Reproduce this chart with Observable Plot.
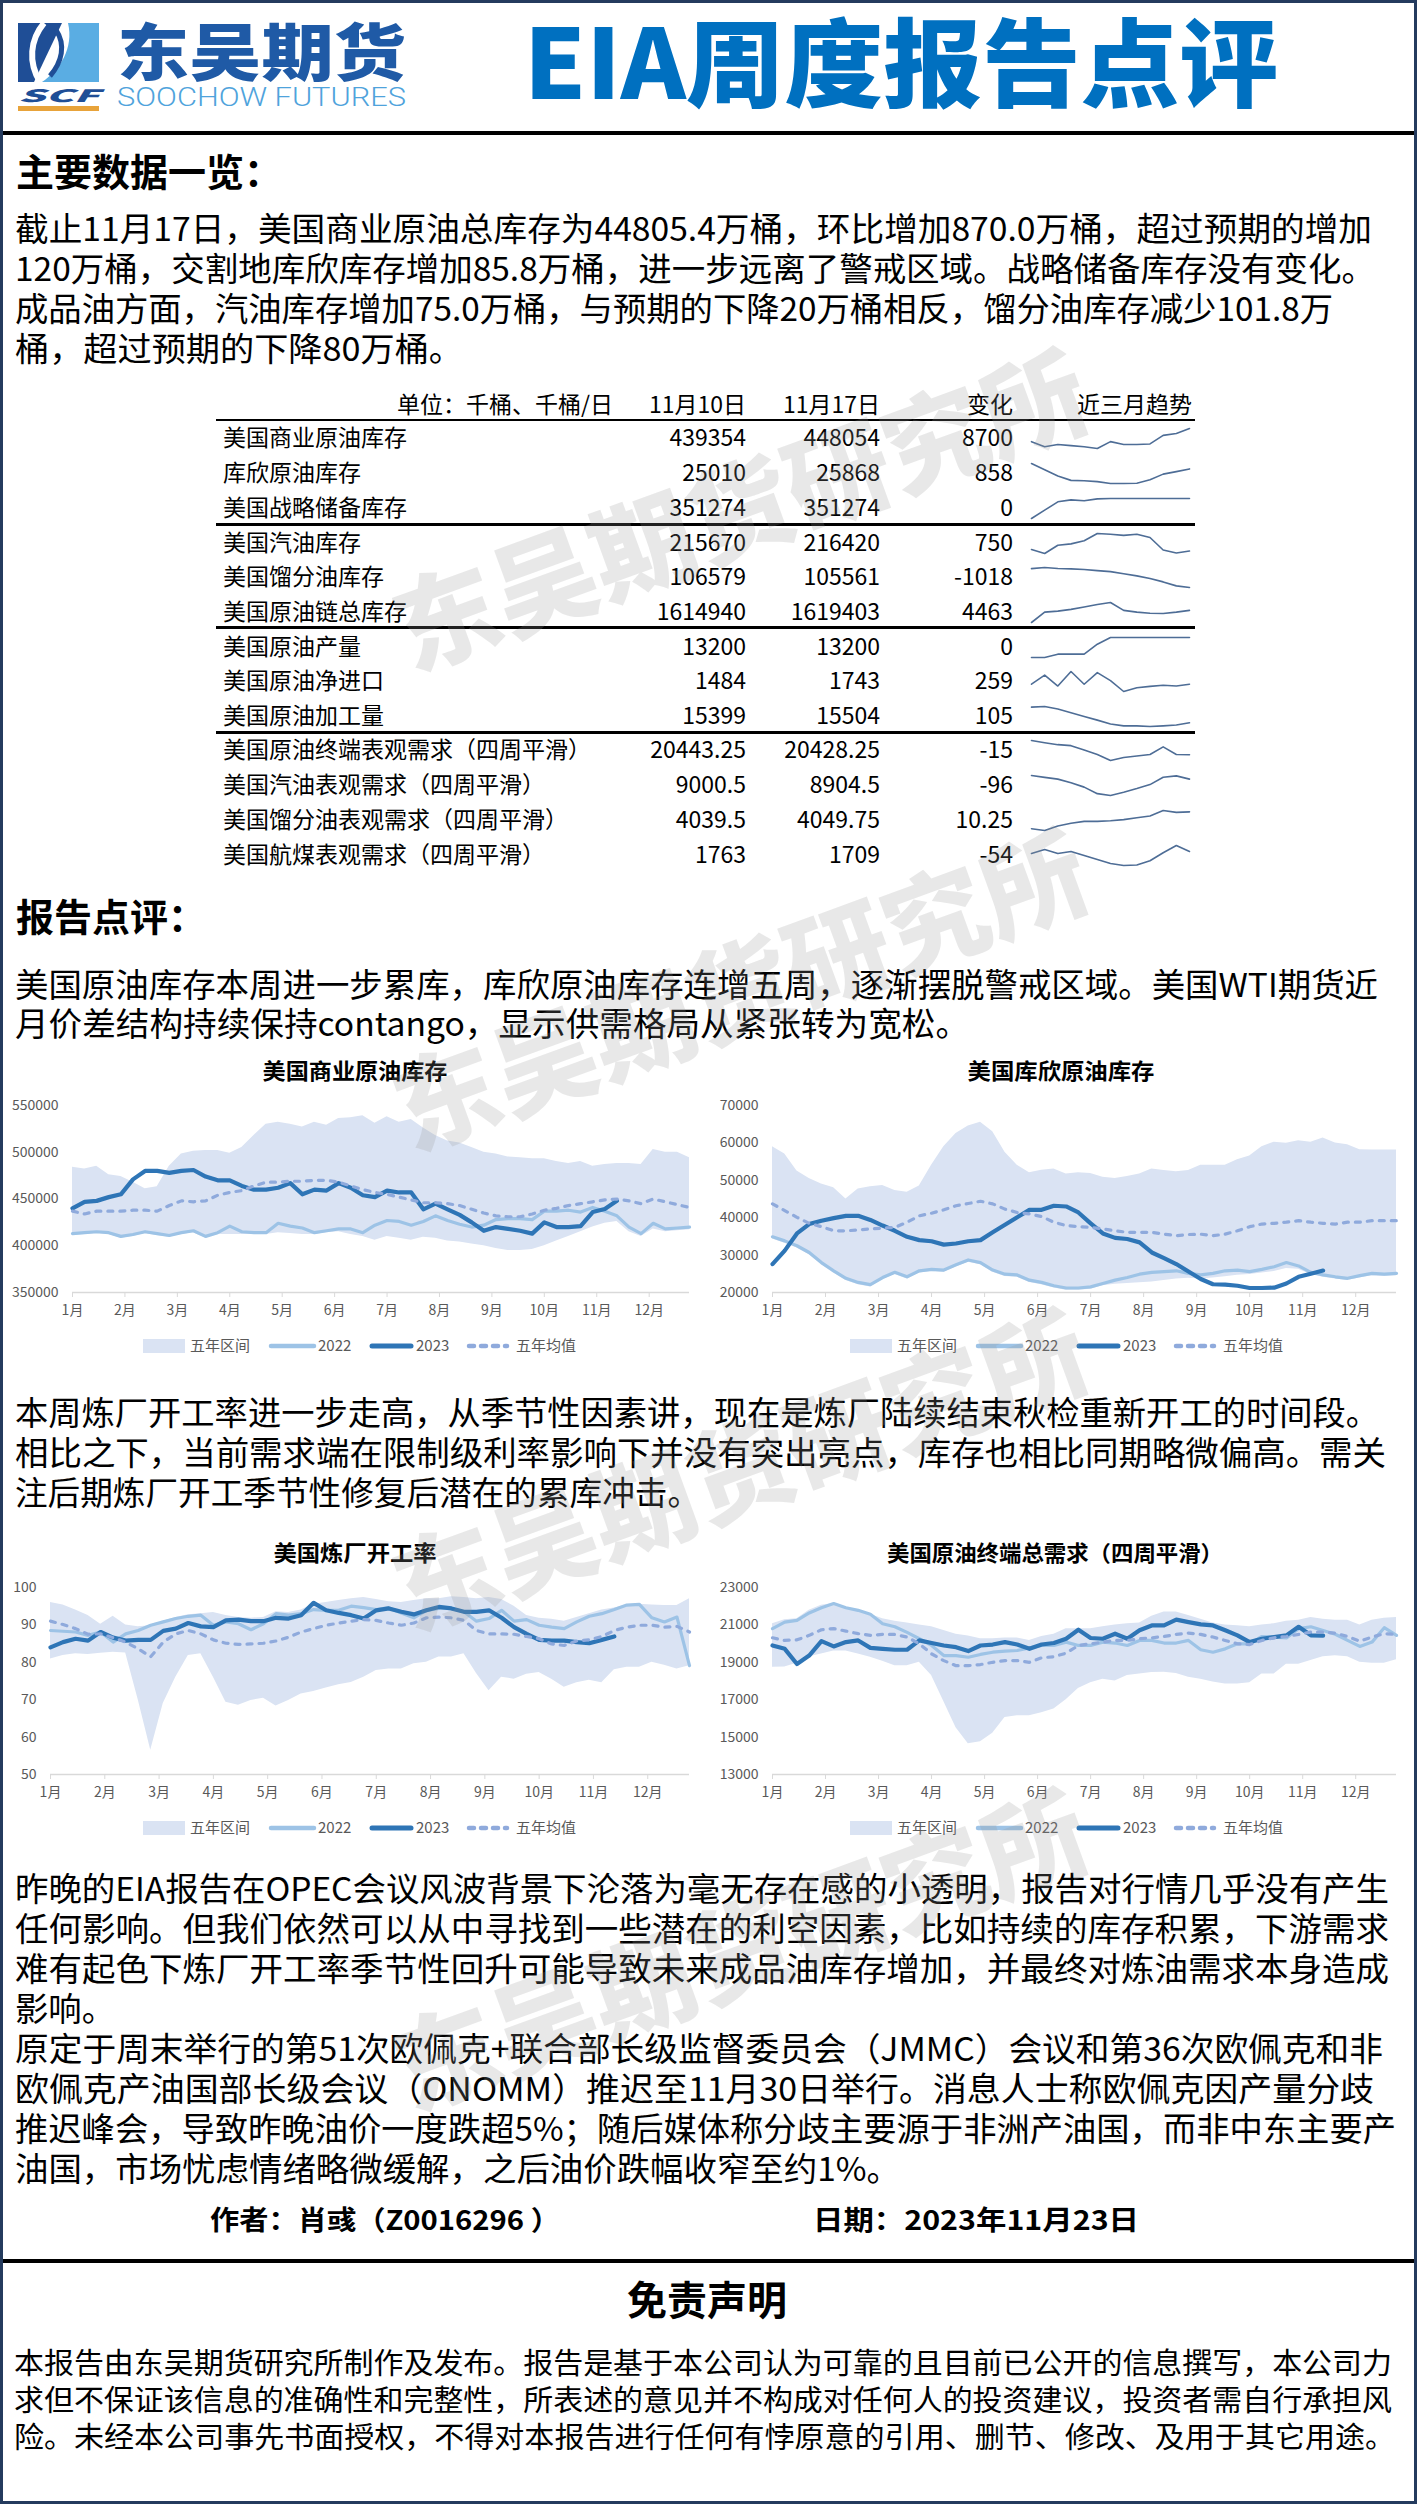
<!DOCTYPE html>
<html><head><meta charset="utf-8">
<script src="https://cdn.jsdelivr.net/npm/d3@7"></script>
<script src="https://cdn.jsdelivr.net/npm/@observablehq/plot@0.6"></script>
<style>
html,body{margin:0;padding:0;background:#fff;}
#page{position:relative;width:1417px;height:2504px;overflow:hidden;background:#fff;font-family:"Noto Sans CJK SC","Noto Sans",sans-serif;color:#000;}
#frame{position:absolute;left:0;top:0;width:1417px;height:2504px;box-sizing:border-box;border:3px solid #243b5e;pointer-events:none;z-index:20}
.t{position:absolute;white-space:nowrap;}
.hr{position:absolute;background:#000;}
.wm{position:absolute;white-space:nowrap;pointer-events:none;z-index:15;font-weight:900;color:rgba(150,150,150,0.22);text-align:center;}
</style></head><body><div id="page"><div id="frame"></div></div>
<script>
// ---------------- DATA ----------------
const monthLabels = ["1月","2月","3月","4月","5月","6月","7月","8月","9月","10月","11月","12月"];

// 美国商业原油库存 (weekly, 52 weeks)
const c1Hi = [484000,482000,485000,476000,474000,468000,461000,463000,485000,498000,501000,502000,502000,499000,505000,518000,530000,532000,530000,527000,532000,529000,536000,537000,539000,531000,538000,532000,535000,526000,518000,512000,510000,505000,500000,498000,495000,494000,493000,493000,490000,488000,490000,485000,487000,488000,488000,487000,503000,500000,500000,494000];
const c1Lo = [411000,412000,413000,412000,408000,410000,413000,411000,409000,412000,414000,408000,412000,412000,412000,412000,412000,414000,413000,412000,412000,414000,415000,412000,410000,406000,410000,408000,406000,409000,408000,405000,404000,402000,400000,397000,395000,395000,396000,400000,405000,410000,415000,420000,424000,426000,415000,410000,418000,415000,416000,417000];
const c1Y2022 = [413000,414000,415000,414000,410000,412000,415000,413000,411000,414000,416000,410000,414000,421000,415000,414000,414000,424000,421000,419000,414000,416000,418000,418000,414000,422000,427000,426000,422000,426000,432000,427000,423000,420000,422000,428000,429000,429000,428000,437000,437000,438000,436000,441000,437000,432000,420000,413000,424000,418000,419000,420000];
const c1Y2023 = [440000,447000,448000,452000,455000,471000,480000,480000,478000,480000,481000,474000,470000,470000,464000,460000,460000,462000,467000,455000,460000,459000,467000,462000,454000,452000,459000,457000,457000,439000,445000,439000,433000,425000,416000,420000,418000,416000,413000,425000,420000,420000,421000,436000,439354,448054];
const c1Avg = [437000,434000,437000,437000,437000,438000,438000,437000,443000,448000,447000,448000,454000,457000,459000,464000,468000,468000,469000,469000,470000,470000,468000,464000,460000,457000,455000,452000,449000,446000,446000,445000,443000,439000,435000,432000,431000,431000,434000,438000,440000,443000,445000,447000,449000,450000,448000,445000,450000,447000,444000,441000];

// 美国库欣原油库存
const c2Hi = [59000,57000,52500,50500,49000,48000,45000,47700,48300,48600,47300,46800,48500,54000,59000,62500,64500,65500,63000,57500,54000,52000,52700,53000,51700,52000,51800,50800,50500,51000,51700,53000,52600,52300,52600,54000,54000,54000,55500,56500,59000,60200,59900,60600,60200,61300,60000,59500,58200,58100,58100,58100];
const c2Lo = [34300,33200,31900,30100,27400,25200,23200,22100,21500,23400,24800,23600,25200,25600,25400,26800,28100,27400,25400,24300,24100,22700,22100,21200,20600,20600,20900,21800,22200,22400,22600,22800,23200,23600,23800,23600,23900,24200,24600,24800,25200,25600,26400,26200,24800,24100,23600,23200,23900,24500,24300,24500];
const c2Y2022 = [34900,33800,32500,30700,28000,25800,23800,22700,22100,24000,25400,24200,25800,26200,26000,27400,28700,28000,26000,24900,24700,23300,22700,21800,21200,21200,21500,22400,23300,24000,24900,25400,25600,25800,25100,24700,25100,25800,26000,25600,26200,26900,28000,27100,25400,24700,24200,23800,24500,25100,24900,25100];
const c2Y2023 = [27600,31200,35800,38300,39200,39900,40500,40500,39400,37900,36500,34900,34000,33700,32800,33100,33700,34000,36100,38100,40100,42100,42100,43200,43000,41400,38500,35800,34600,34300,33400,30700,29200,27600,25600,23600,22200,22100,21800,21200,21200,21300,22400,24200,25010,25868];
const c2Avg = [43700,41900,40100,38500,37600,36500,36500,36700,37000,37200,37400,38800,40500,41200,42100,43200,43800,44400,43700,42300,41400,41000,40300,38800,37900,37600,37400,37000,36500,36100,36100,36100,35600,35200,35500,35600,35200,35600,36500,37600,38300,38500,38800,39200,38800,38500,38300,38800,38800,39200,39200,39200];

// 美国炼厂开工率
const c3Hi = [96,95.3,94,92.5,90.2,92.3,90,89.5,89.8,91,92,92.7,93,93.3,92.5,92,91.8,92,93.5,93.3,94,95.5,96,96.5,97,97.3,96.8,96.2,96,96.5,97,97,97.5,97.3,97,97.3,96.8,95,92.5,91.8,91.5,91,92,93,94,94.5,95.3,95.5,95.3,95.2,95.2,97];
const c3Lo = [80.9,81.8,82.3,82.1,82.4,82.7,82.5,70,56.5,69,76,81.8,82.3,76,69.3,68.5,69.8,70.4,68.3,69.8,71.5,72.2,73.1,74,74.6,76,77.8,78.2,78.2,79.6,80,81.4,81.4,82.3,77,72.4,76,75.5,76.8,77.3,75.5,73.3,74.5,75.2,74.5,78,78.7,78.7,80,79.2,78.2,79.1];
const c3Y2022 = [88.5,88.3,88.1,87.2,88.1,85.4,87.6,88.5,89.9,90.8,91.7,92.3,92.6,89.9,90.8,90.3,88.7,90.3,93,92.6,93,94.1,93.9,93.9,95,94.6,94.1,94.6,93.2,91.9,93.9,94.4,94.4,93.5,91,91.7,93.9,91,91.4,89.9,89.4,89,90.8,92.3,93,94.1,95.3,95.5,91.9,90.8,92.1,79.1];
const c3Y2023 = [84,85.4,86.3,85.8,88.1,86.6,85.8,86,86,88.4,89,90.5,89.6,89.4,91.2,91.4,91,91,91.9,91.7,92.6,95.9,93.9,93.2,92.6,91.7,93.9,94.4,93.5,92.8,93.9,94.8,94.4,93.5,93.5,93.9,91.9,89.4,87.6,86,85.8,85.8,85.4,85.1,86,86.9];
const c3Avg = [91,90.1,89,87.5,87.6,86.6,85.4,83.6,81.5,85.4,87.6,88.5,87.6,86,85.1,84.8,84.9,85.1,85.7,86.7,88.1,89,89.9,90.5,91,91.4,91.2,90.5,89.9,90.5,91.9,92.1,91.9,91.2,88.5,87.6,87.6,87.5,86.9,86.3,84.9,84.5,85.7,86,86.9,88.5,89.4,89.9,89.9,89.4,89.6,88.1];

// 美国原油终端总需求（四周平滑）
const c4Hi = [21060,21280,21330,21780,22050,22140,21920,21780,21570,21330,21200,21100,21000,20900,20700,20500,20400,20260,20260,20300,20300,20170,20380,20500,20800,20800,20800,20900,21000,21060,21100,21460,21690,21690,21500,21300,21100,21000,20950,20900,21000,21060,21200,21250,21400,21300,21250,21250,21000,21250,21350,21400];
const c4Lo = [18730,18750,18950,19300,19450,19600,19600,19450,19270,19060,18820,18820,19000,18290,16900,15500,14650,14750,15200,16050,16140,16140,16300,16500,17000,17600,17900,18100,18000,18300,18380,18450,18470,18400,18200,18100,17950,17840,17840,17900,18380,18380,18900,18900,19100,19300,19350,19300,19000,18950,18950,19130];
const c4Y2022 = [20800,21150,21240,21640,21920,22140,21920,21780,21570,21060,20900,20600,20260,19900,19360,19360,19270,19420,19540,19600,19630,19770,19900,19900,20080,19900,19900,20080,20030,19900,20170,20170,20030,20030,20170,19670,19540,19720,19990,19990,20380,20350,20300,20800,20900,20700,20500,20170,19850,20080,20850,20440];
const c4Y2023 = [19900,19720,18910,19360,20130,19850,20080,20170,19770,19720,19670,19670,20170,20030,19900,19810,19600,19900,19950,20080,19950,19720,19950,20030,20260,20740,20300,20260,20530,20260,20710,20970,20970,21280,21150,21030,20970,20710,20440,20080,20260,20350,20440,20900,20443,20428];
const c4Avg = [20310,20170,20200,20440,20740,20800,20670,20530,20440,20490,20490,20350,19990,19450,19090,18820,18820,18880,19000,19090,19090,19000,19240,19300,19490,19900,19990,20080,20170,20170,20260,20310,20380,20490,20560,20490,20350,20170,19990,19950,20170,20310,20380,20490,20620,20620,20560,20380,20130,20350,20530,20490];

// Table
const rowLabels = ["美国商业原油库存","库欣原油库存","美国战略储备库存","美国汽油库存","美国馏分油库存","美国原油链总库存","美国原油产量","美国原油净进口","美国原油加工量","美国原油终端表观需求（四周平滑）","美国汽油表观需求（四周平滑）","美国馏分油表观需求（四周平滑）","美国航煤表观需求（四周平滑）"];
const valNov10 = [439354,25010,351274,215670,106579,1614940,13200,1484,15399,20443.25,9000.5,4039.5,1763];
const valNov17 = [448054,25868,351274,216420,105561,1619403,13200,1743,15504,20428.25,8904.5,4049.75,1709];
const valChange = [8700,858,0,750,-1018,4463,0,259,105,-15,-96,10.25,-54];
const tableHeader = ["单位：千桶、千桶/日","11月10日","11月17日","变化","近三月趋势"];
// 近三月趋势 (13 weeks each)
const trend1 = [425000,416000,420000,418000,416000,413000,425000,420000,420000,421000,436000,439354,448054];
const trend2 = [27600,25600,23600,22200,22100,21800,21200,21200,21300,22400,24200,25010,25868];
const trend3 = [347200,348900,350600,351000,350800,351200,351274,351274,351274,351274,351274,351274,351274];
const trend4 = [217000,215500,218600,219100,220300,223000,222700,222300,222700,221500,216800,215670,216420];
const trend5 = [117500,118200,117600,117300,116900,116200,115600,114300,112900,111200,109100,106579,105561];
const trend6 = [1588100,1614900,1617600,1622100,1628300,1634600,1639900,1619400,1614900,1612200,1611300,1614940,1619403];
const trend7 = [12900,12900,12950,12950,12950,13100,13200,13200,13200,13200,13200,13200,13200];
const trend8 = [1743,3040,1484,3560,1740,3400,2260,700,1225,1430,1590,1484,1743];
const trend9 = [16240,16270,16150,15980,15800,15630,15450,15360,15360,15330,15360,15399,15504];
const trend10 = [21280,21150,21030,20970,20710,20440,20080,20260,20350,20440,20900,20443.25,20428.25];
const trend11 = [9011,8957,8904,8797,8669,8477,8423,8519,8626,8744,8958,9000.5,8904.5];
const trend12 = [3680,3640,3740,3800,3840,3840,3855,3880,3920,3960,4080,4039.5,4049.75];
const trend13 = [1691,1727,1691,1709,1673,1637,1601,1583,1587,1626,1698,1763,1709];
const trends = [trend1,trend2,trend3,trend4,trend5,trend6,trend7,trend8,trend9,trend10,trend11,trend12,trend13];

// Texts
const para1 = ["截止11月17日，美国商业原油总库存为44805.4万桶，环比增加870.0万桶，超过预期的增加","120万桶，交割地库欣库存增加85.8万桶，进一步远离了警戒区域。战略储备库存没有变化。","成品油方面，汽油库存增加75.0万桶，与预期的下降20万桶相反，馏分油库存减少101.8万","桶，超过预期的下降80万桶。"];
const para2 = ["美国原油库存本周进一步累库，库欣原油库存连增五周，逐渐摆脱警戒区域。美国WTI期货近","月价差结构持续保持contango，显示供需格局从紧张转为宽松。"];
const para3 = ["本周炼厂开工率进一步走高，从季节性因素讲，现在是炼厂陆续结束秋检重新开工的时间段。","相比之下，当前需求端在限制级利率影响下并没有突出亮点，库存也相比同期略微偏高。需关","注后期炼厂开工季节性修复后潜在的累库冲击。"];
const para4 = ["昨晚的EIA报告在OPEC会议风波背景下沦落为毫无存在感的小透明，报告对行情几乎没有产生","任何影响。但我们依然可以从中寻找到一些潜在的利空因素，比如持续的库存积累，下游需求","难有起色下炼厂开工率季节性回升可能导致未来成品油库存增加，并最终对炼油需求本身造成","影响。"];
const para5 = ["原定于周末举行的第51次欧佩克+联合部长级监督委员会（JMMC）会议和第36次欧佩克和非","欧佩克产油国部长级会议（ONOMM）推迟至11月30日举行。消息人士称欧佩克因产量分歧","推迟峰会，导致昨晚油价一度跌超5%；随后媒体称分歧主要源于非洲产油国，而非中东主要产","油国，市场忧虑情绪略微缓解，之后油价跌幅收窄至约1%。"];
const disclaimer = ["本报告由东吴期货研究所制作及发布。报告是基于本公司认为可靠的且目前已公开的信息撰写，本公司力","求但不保证该信息的准确性和完整性，所表述的意见并不构成对任何人的投资建议，投资者需自行承担风","险。未经本公司事先书面授权，不得对本报告进行任何有悖原意的引用、删节、修改、及用于其它用途。"];

// ---------------- RENDER ----------------
const page = document.getElementById("page");
const FONT = '"Noto Sans CJK SC","Noto Sans",sans-serif';

function txt(s, o) {
  const d = document.createElement("div");
  d.className = "t";
  d.textContent = s;
  const size = o.size || 33;
  d.style.fontSize = size + "px";
  d.style.lineHeight = size + "px";
  d.style.top = (o.y - 0.56 * size) + "px";
  if (o.weight) d.style.fontWeight = o.weight;
  if (o.color) d.style.color = o.color;
  if (o.family) d.style.fontFamily = o.family;
  if (o.style) d.style.fontStyle = o.style;
  if (o.z) d.style.zIndex = o.z;
  page.appendChild(d);
  const w = d.getBoundingClientRect().width;
  const sx = o.w ? o.w / w : 1;
  const anchor = o.anchor || "start";
  let left;
  if (anchor === "start") { left = o.x; d.style.transformOrigin = "0 50%"; }
  else if (anchor === "end") { left = o.x - w; d.style.transformOrigin = "100% 50%"; }
  else { left = o.x - w / 2; d.style.transformOrigin = "50% 50%"; }
  d.style.left = left + "px";
  if (sx !== 1) d.style.transform = `scaleX(${sx})`;
  return d;
}
function hr(x1, x2, y, h) {
  const d = document.createElement("div");
  d.className = "hr";
  Object.assign(d.style, {left: x1 + "px", width: (x2 - x1) + "px", top: (y - h / 2) + "px", height: h + "px"});
  page.appendChild(d);
}

// Header: logo
page.insertAdjacentHTML("beforeend", `<svg width="110" height="100" style="position:absolute;left:0;top:0">
<path d="M18,23 H62 L34,82 H18 Z" fill="#1F4E96"/>
<path d="M44,23 C30,40 28,62 40,82" fill="none" stroke="#fff" stroke-width="6"/>
<path d="M68,23 H99 V82 H42 C60,70 74,48 68,23 Z" fill="#5AADE3"/>
<path d="M56,30 C66,45 62,62 50,76" fill="none" stroke="#1F4E96" stroke-width="5"/>
</svg>`);
txt("东吴期货", {x: 117, y: 53, size: 62, weight: 900, color: "#1F5AA6", w: 289});
txt("SCF", {x: 18, y: 96, size: 17, weight: 900, color: "#1F4E96", w: 81, style: "italic"});
txt("SOOCHOW FUTURES", {x: 117, y: 99, size: 26, weight: 300, color: "#4FA3DC", w: 289, family: '"Roboto","Noto Sans",sans-serif'});
const bar = document.createElement("div");
Object.assign(bar.style, {position: "absolute", left: "18px", top: "106px", width: "81px", height: "5px", background: "#E8A33A"});
page.appendChild(bar);
txt("EIA周度报告点评", {x: 524, y: 64, size: 96, weight: 900, color: "#0070C0", w: 754});
hr(3, 1414, 133, 4);

// Section 1
txt("主要数据一览：", {x: 16, y: 172, size: 38, weight: 700});
const p1y = [229, 269, 309, 349], p1w = [1357, 1360, 1318, 448];
para1.forEach((s, i) => txt(s, {x: 15, y: p1y[i], size: 33, w: p1w[i]}));

// Table
const hdrX = [613, 746, 880, 1013, 1192];
tableHeader.forEach((s, i) => txt(s, {x: hdrX[i], y: 405, size: 23, anchor: "end"}));
hr(216, 1195, 420, 2.5);
const rowY = [438, 473, 508, 543, 577, 612, 647, 681, 716, 750, 785, 820, 855];
rowLabels.forEach((s, i) => {
  txt(s, {x: 223, y: rowY[i], size: 23});
  txt(String(valNov10[i]), {x: 746, y: rowY[i], size: 23, anchor: "end"});
  txt(String(valNov17[i]), {x: 880, y: rowY[i], size: 23, anchor: "end"});
  txt(String(valChange[i]), {x: 1013, y: rowY[i], size: 23, anchor: "end"});
});
[524, 627, 732].forEach(y => hr(216, 1195, y, 3));
trends.forEach((vals, r) => {
  const svg = Plot.plot({
    width: 162, height: 24, margin: 2, axis: null,
    style: {background: "transparent", overflow: "visible"},
    marks: [Plot.line(vals.map((v, i) => ({i, v})), {x: "i", y: "v", stroke: "#4E6D96", strokeWidth: 1.6})]
  });
  const holder = document.createElement("div");
  Object.assign(holder.style, {position: "absolute", left: "1029px", top: (rowY[r] - 12) + "px"});
  holder.appendChild(svg);
  page.appendChild(holder);
});

// Section 2
txt("报告点评：", {x: 16, y: 917, size: 38, weight: 700});
const p2y = [985, 1024], p2w = [1363, 954];
para2.forEach((s, i) => txt(s, {x: 15, y: p2y[i], size: 33, w: p2w[i]}));

// Charts
const weeks = d3.range(52);
const monthTicks = monthLabels.map((_, m) => m * 52 / 12);
const monthFmt = new Map(monthTicks.map((t, m) => [t, monthLabels[m]]));
function seasonal({left, top, width, ml, mr, yDomain, yTicks, hi, lo, y22, y23, avg}) {
  const band = weeks.map(i => ({w: i, lo: lo[i], hi: hi[i]}));
  const ser = a => a.map((v, i) => ({w: i, v}));
  const svg = Plot.plot({
    width, height: 240, marginLeft: ml, marginRight: mr, marginTop: 15, marginBottom: 38,
    style: {fontFamily: FONT, fontSize: "14px", color: "#595959", background: "transparent", overflow: "visible"},
    x: {domain: [0, 51]},
    y: {domain: yDomain},
    marks: [
      Plot.areaY(band, {x: "w", y1: "lo", y2: "hi", fill: "#DAE3F3"}),
      Plot.ruleY([yDomain[0]], {stroke: "#D9D9D9", strokeWidth: 1.5}),
      Plot.line(ser(y22), {x: "w", y: "v", stroke: "#9DC3E6", strokeWidth: 3.2, strokeLinejoin: "round"}),
      Plot.line(ser(y23), {x: "w", y: "v", stroke: "#2E75B6", strokeWidth: 4.2, strokeLinejoin: "round", strokeLinecap: "round"}),
      Plot.line(ser(avg), {x: "w", y: "v", stroke: "#8FAADC", strokeWidth: 3.2, strokeDasharray: "5,7", strokeLinecap: "round"}),
      Plot.axisX({ticks: monthTicks, tickFormat: d => monthFmt.get(d), tickSize: 5, tickPadding: 8, stroke: "#D9D9D9", fill: "#595959", fontSize: 14, label: null}),
      Plot.axisY({ticks: yTicks, tickFormat: d => String(d), tickSize: 0, tickPadding: 14, fill: "#595959", fontSize: 14, label: null})
    ]
  });
  const holder = document.createElement("div");
  Object.assign(holder.style, {position: "absolute", left: left + "px", top: top + "px"});
  holder.appendChild(svg);
  page.appendChild(holder);
}
function legend(cx, cy) {
  const x0 = cx - 216;
  page.insertAdjacentHTML("beforeend", `<svg width="460" height="24" style="position:absolute;left:${x0}px;top:${cy - 12}px;overflow:visible" font-family='${FONT}' font-size="15" fill="#595959">
<rect x="0" y="5" width="42" height="14" fill="#DAE3F3"/>
<text x="47" y="12" dy="0.36em">五年区间</text>
<line x1="128" x2="171" y1="12" y2="12" stroke="#9DC3E6" stroke-width="4.5" stroke-linecap="round"/>
<text x="175" y="12" dy="0.36em">2022</text>
<line x1="229" x2="268" y1="12" y2="12" stroke="#2E75B6" stroke-width="5" stroke-linecap="round"/>
<text x="273" y="12" dy="0.36em">2023</text>
<line x1="326" x2="364" y1="12" y2="12" stroke="#8FAADC" stroke-width="4.5" stroke-dasharray="5,7" stroke-linecap="round"/>
<text x="373" y="12" dy="0.36em">五年均值</text></svg>`);
}

txt("美国商业原油库存", {x: 355, y: 1070, size: 22, weight: 700, anchor: "middle", w: 185});
txt("美国库欣原油库存", {x: 1061, y: 1070, size: 22, weight: 700, anchor: "middle", w: 187});
seasonal({left: 0, top: 1090, width: 705, ml: 72, mr: 16, yDomain: [350000, 550000], yTicks: [350000, 400000, 450000, 500000, 550000], hi: c1Hi, lo: c1Lo, y22: c1Y2022, y23: c1Y2023, avg: c1Avg});
seasonal({left: 705, top: 1090, width: 712, ml: 67, mr: 21, yDomain: [20000, 70000], yTicks: [20000, 30000, 40000, 50000, 60000, 70000], hi: c2Hi, lo: c2Lo, y22: c2Y2022, y23: c2Y2023, avg: c2Avg});
legend(359, 1346);
legend(1066, 1346);

const p3y = [1413, 1453, 1493], p3w = [1364, 1371, 685];
para3.forEach((s, i) => txt(s, {x: 15, y: p3y[i], size: 33, w: p3w[i]}));

txt("美国炼厂开工率", {x: 355, y: 1552, size: 22, weight: 700, anchor: "middle", w: 163});
txt("美国原油终端总需求（四周平滑）", {x: 1055, y: 1552, size: 22, weight: 700, anchor: "middle", w: 336});
seasonal({left: 0, top: 1572, width: 705, ml: 50, mr: 16, yDomain: [50, 100], yTicks: [50, 60, 70, 80, 90, 100], hi: c3Hi, lo: c3Lo, y22: c3Y2022, y23: c3Y2023, avg: c3Avg});
seasonal({left: 705, top: 1572, width: 712, ml: 67, mr: 21, yDomain: [13000, 23000], yTicks: [13000, 15000, 17000, 19000, 21000, 23000], hi: c4Hi, lo: c4Lo, y22: c4Y2022, y23: c4Y2023, avg: c4Avg});
legend(359, 1828);
legend(1066, 1828);

const p4y = [1889, 1929, 1969, 2009], p4w = [1374, 1374, 1374, 100];
para4.forEach((s, i) => txt(s, {x: 15, y: p4y[i], size: 33, w: p4w[i]}));
const p5y = [2049, 2089, 2129, 2169], p5w = [1368, 1359, 1381, 885];
para5.forEach((s, i) => txt(s, {x: 15, y: p5y[i], size: 33, w: p5w[i]}));

txt("作者：肖彧（Z0016296 ）", {x: 210, y: 2220, size: 27, weight: 700, w: 350});
txt("日期：2023年11月23日", {x: 813, y: 2220, size: 27, weight: 700, w: 326});
hr(3, 1414, 2261, 4);
txt("免责声明", {x: 707, y: 2300, size: 40, weight: 700, anchor: "middle", w: 160});
const dy = [2363, 2400, 2437], dw = [1378, 1378, 1381];
disclaimer.forEach((s, i) => txt(s, {x: 14, y: dy[i], size: 29, w: dw[i]}));

// Watermarks
[0, 1, 2, 3].forEach(k => {
  const d = document.createElement("div");
  d.className = "wm";
  d.textContent = "东吴期货研究所";
  Object.assign(d.style, {left: (738 - 380) + "px", top: (505 + 480 * k - 58) + "px", width: "760px", fontSize: "104px", lineHeight: "116px", transform: "rotate(-20deg)"});
  page.appendChild(d);
});
</script></body></html>
